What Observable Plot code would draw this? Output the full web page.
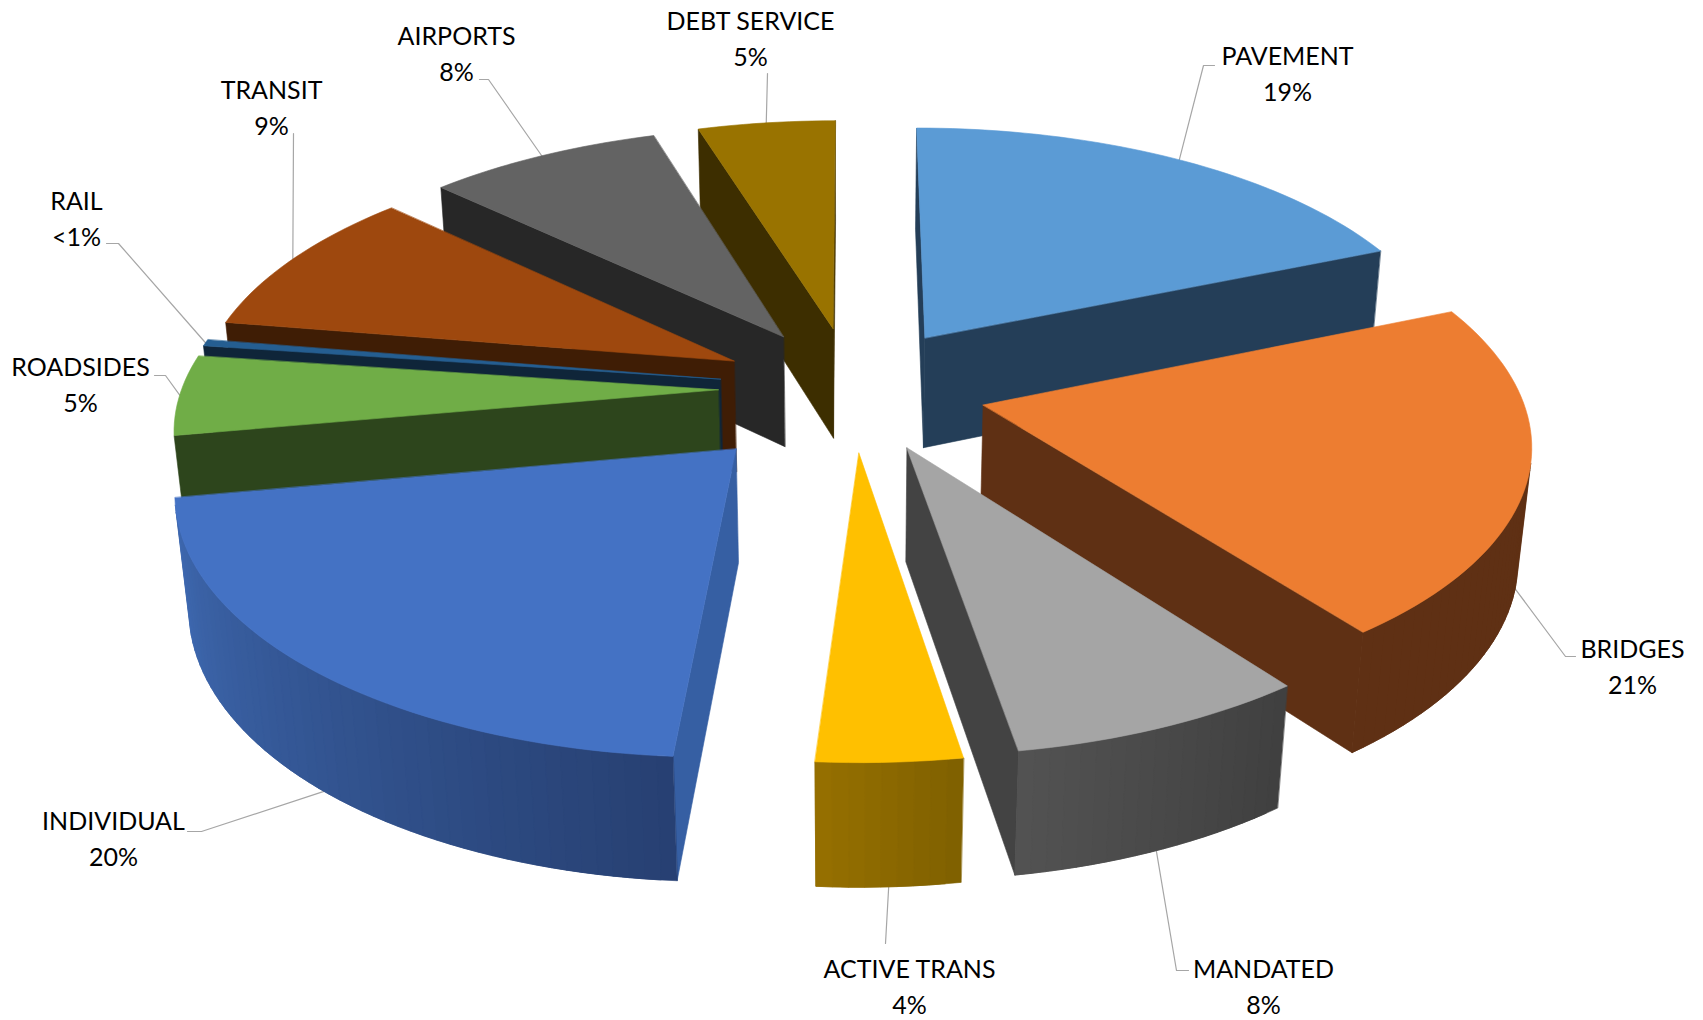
<!DOCTYPE html>
<html><head><meta charset="utf-8">
<style>html,body{margin:0;padding:0;background:#fff}svg{display:block}</style>
<script src="https://cdn.jsdelivr.net/npm/d3@7"></script>
<script src="https://cdn.jsdelivr.net/npm/@observablehq/plot@0.6"></script>
</head><body><div id="chart"></div>
<script>
// data
const categories = ["PAVEMENT","BRIDGES","MANDATED","ACTIVE TRANS","INDIVIDUAL","ROADSIDES","RAIL","TRANSIT","AIRPORTS","DEBT SERVICE"];
const shares = [18.7,21.02,7.7,3.7,21.03,5.05,0.41,9.46,8.16,4.78];
const shareLabels = ["19%","21%","8%","4%","20%","5%","<1%","9%","8%","5%"];
const explodeBy = [0.25,0.25,0.25,0.25,0.315,0.25,0.25,0.25,0.25,0.25];
// colours
const topColors = ["#5b9bd5","#ed7d31","#a5a5a5","#ffc000","#4472c4","#70ad47","#255e91","#9e480e","#636363","#997300"];
const sideColors = ["#243e58","#5f3014","#434343","#453400","#365fa3","#2d451c","#0f2539","#3f1d05","#272727","#3d2e00"];
const arcStartColors = ["#243e58","#5f3014","#404040","#7f6000","#274072","#2d451c","#0f2539","#3f1d05","#272727","#3d2e00"];
const arcEndColors = ["#243e58","#5f3014","#525252","#967000","#3f6ab2","#2d451c","#0f2539","#3f1d05","#272727","#3d2e00"];
// back-to-front painting order (indices into categories)
const paintOrder = [9,8,7,6,5,0,1,4,2,3];
// camera model
const view = {cx:852, cy:388, s:536.5, t:250, u:114, p:0.132, q:0.02, rotate:0};
// label layout
const labelX = [1287,1632,1263,909,113,80,76,271,456,750];
const labelY = [53,646,966,966,818,364,198,87,33,18];
const leaderX = [[1203,1214],[1565,1575],[1176,1188],[885],[201,187],[165,154],[118,106],[293],[488,479],[767]];
const leaderY = [[65,65],[656,656],[970,970],[943],[831,831],[375,375],[243,243],[133],[79,79],[73]];
const leaderOnBase = [false,true,true,true,true,false,false,false,false,false];

const rad = d => d*Math.PI/180;
function project(X,Y,Z){
  const w = 1 + view.p*Y - view.q*Z;
  return [view.cx + view.s*X/w, view.cy - (view.t*Y + view.u*Z)/w];
}
const total = d3.sum(shares);
let acc = 0;
const slices = categories.map((name,i)=>{
  const a0 = view.rotate + acc/total*360; acc += shares[i];
  const a1 = view.rotate + acc/total*360;
  const mid = (a0+a1)/2;
  const ox = explodeBy[i]*Math.sin(rad(mid)), oy = explodeBy[i]*Math.cos(rad(mid));
  const rim = (a,z)=>project(ox+Math.sin(rad(a)), oy+Math.cos(rad(a)), z);
  const apex = z=>project(ox,oy,z);
  return {name,i,a0,a1,mid,rim,apex};
});
const faces = [];
let fid = 0;
const faceArea = pts => d3.polygonArea(pts);
function addFace(pts,color){
  const id = fid++;
  for(const [x,y] of pts) faces.push({x,y,id,color});
}
for(const k of paintOrder){
  const sl = slices[k];
  const n = Math.max(1,Math.ceil((sl.a1-sl.a0)/1.5));
  const as = d3.range(n+1).map(j=>sl.a0+(sl.a1-sl.a0)*j/n);
  const mix = d3.interpolateRgb(arcStartColors[k],arcEndColors[k]);
  const wa = [sl.apex(0),sl.rim(sl.a0,0),sl.rim(sl.a0,-1),sl.apex(-1)];
  const wb = [sl.rim(sl.a1,0),sl.apex(0),sl.apex(-1),sl.rim(sl.a1,-1)];
  if(faceArea(wa)>0) addFace(wa,sideColors[k]);
  if(faceArea(wb)>0) addFace(wb,sideColors[k]);
  // rim strips overlap the next strip so that no seam shows between them
  for(let j=0;j<n;j++){
    const e = as[Math.min(j+2,n)];
    const q=[sl.rim(as[j],0),sl.rim(as[j+1],0),sl.rim(e,0),sl.rim(e,-1),sl.rim(as[j+1],-1),sl.rim(as[j],-1)];
    if(faceArea([sl.rim(as[j],0),sl.rim(as[j+1],0),sl.rim(as[j+1],-1),sl.rim(as[j],-1)])>0) addFace(q,mix((j+.5)/n));
  }
  addFace([sl.apex(0),...as.map(a=>sl.rim(a,0))],topColors[k]);
}
const leaders=[];
slices.forEach((sl,i)=>{
  const a = sl.rim(sl.mid, leaderOnBase[i]?-1:0);
  [a,...leaderX[i].map((x,j)=>[x,leaderY[i][j]])].forEach(([x,y])=>leaders.push({x,y,i}));
});
const labels = categories.map((c,i)=>({t:c+"\n"+shareLabels[i],x:labelX[i],y:labelY[i]+18}));
const chart = Plot.plot({
  width:1703,height:1020,margin:0,
  x:{domain:[0,1703],range:[0,1703],axis:null},
  y:{domain:[0,1020],range:[0,1020],axis:null},
  color:{type:"identity"},
  style:{background:"#fff"},
  marks:[
    Plot.line(leaders,{x:"x",y:"y",z:"i",stroke:"#a6a6a6",strokeWidth:1.2}),
    Plot.line(faces,{x:"x",y:"y",z:"id",fill:"color",stroke:"color",strokeWidth:0.6,curve:"linear-closed"}),
    Plot.text(labels,{x:"x",y:"y",text:"t",fontFamily:"Lato",fontSize:25,lineHeight:1.44,fill:"#000",textAnchor:"middle"})
  ]
});
document.getElementById("chart").append(chart);
</script></body></html>
